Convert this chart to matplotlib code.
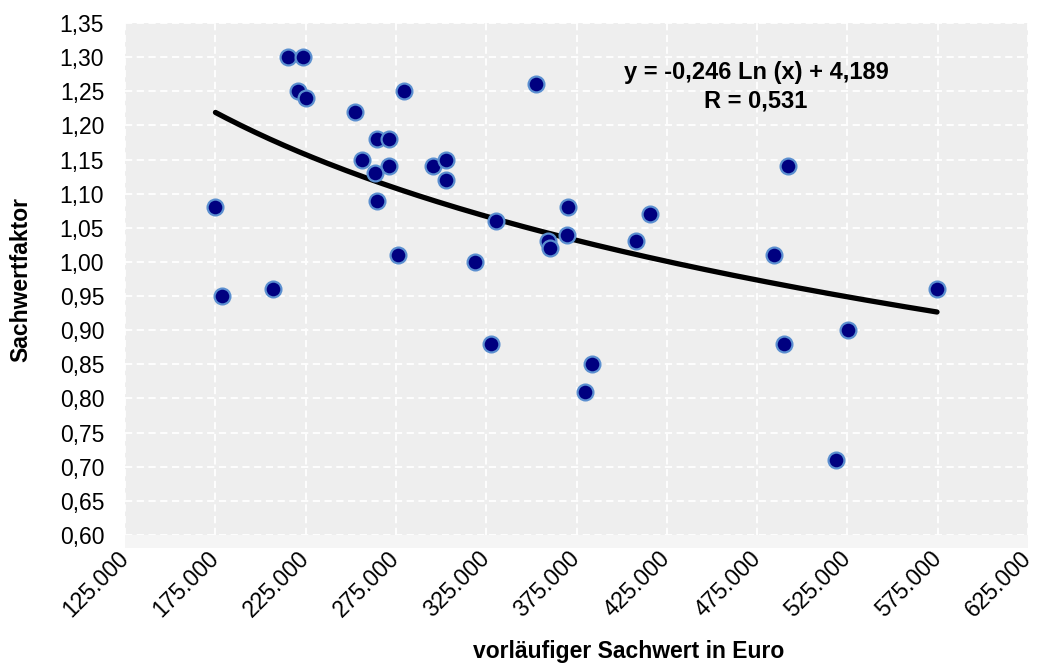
import numpy as np
import matplotlib.pyplot as plt
from matplotlib.patches import Rectangle
from matplotlib.ticker import FuncFormatter, MultipleLocator

plt.rcParams['font.family'] = ['Liberation Sans', 'DejaVu Sans']

# vorlaeufiger Sachwert (Euro) und Sachwertfaktor
sachwert = [175100, 178700, 207200, 215500, 223600, 220700, 225500, 252400,
            279300, 264800, 271200, 256200, 271100, 263500, 295300, 302600,
            302600, 264600, 276000, 318600, 330500, 352600, 370200, 370000,
            359000, 360600, 415900, 407800, 327800, 383800, 379700, 491900,
            484200, 574600, 525500, 489700, 518700]
faktor = [1.08, 0.95, 0.96, 1.30, 1.30, 1.25, 1.24, 1.22,
          1.25, 1.18, 1.18, 1.15, 1.14, 1.13, 1.14, 1.15,
          1.12, 1.09, 1.01, 1.00, 1.06, 1.26, 1.08, 1.04,
          1.03, 1.02, 1.07, 1.03, 0.88, 0.85, 0.81, 1.14,
          1.01, 0.96, 0.90, 0.88, 0.71]
x_ticks = [125000, 175000, 225000, 275000, 325000, 375000,
           425000, 475000, 525000, 575000, 625000]

# logarithmische Trendlinie laut Beschriftung
trend_a = -0.246
trend_b = 4.189
trend_r = 0.531

fig = plt.figure(figsize=(10.38, 6.63), dpi=100)
ax = fig.add_axes([0.1204, 0.193, 0.8700, 0.7723])
ax.set_facecolor('#eeeeee')
# schmaler heller Rand unter der Zeichenflaeche
ax.add_patch(Rectangle((0, -0.025), 1, 0.025, transform=ax.transAxes,
                       facecolor='#f5f5f5', edgecolor='none', clip_on=False,
                       zorder=0))

xs = np.linspace(min(sachwert), max(sachwert), 200)
ax.plot(xs, trend_a * np.log(xs) + trend_b, color='black', lw=3.8,
        solid_capstyle='round', zorder=3)
ax.scatter(sachwert, faktor, s=130, color='#000080', edgecolors='#5b8fd0',
           linewidths=1.6, zorder=4)

ax.set_xlim(125000, 625000)
ax.set_ylim(0.6, 1.35)
ax.set_xticks(x_ticks)
ax.yaxis.set_major_locator(MultipleLocator(0.05))
ax.xaxis.set_major_formatter(FuncFormatter(lambda v, p: f"{v:,.0f}".replace(',', '.')))
ax.yaxis.set_major_formatter(FuncFormatter(lambda v, p: f"{v:.2f}".replace('.', ',')))

ax.grid(True, color='white', linestyle=(0, (4, 2.5)), linewidth=1.3)
ax.set_axisbelow(True)
for s in ax.spines.values():
    s.set_visible(False)
ax.tick_params(length=0, labelsize=16.5, colors='black')
ax.tick_params(axis='y', pad=15)
ax.tick_params(axis='x', pad=14)
plt.setp(ax.get_xticklabels(), rotation=45, ha='right', va='center',
         rotation_mode='anchor')

ax.set_xlabel('vorläufiger Sachwert in Euro', fontsize=16.5, fontweight='bold')
ax.xaxis.set_label_coords(0.558, -0.205)
ax.set_ylabel('Sachwertfaktor', fontsize=16.5, fontweight='bold')
ax.yaxis.set_label_coords(-0.103, 0.5)

ax.text(0.7283, 1 - 73 / 663, f"y = {trend_a:.3f} Ln (x) + {trend_b:.3f}".replace('.', ','),
        transform=fig.transFigure, ha='center', va='center', fontsize=17,
        fontweight='bold')
ax.text(0.7283, 1 - 101 / 663, f"R = {trend_r:.3f}".replace('.', ','),
        transform=fig.transFigure, ha='center', va='center', fontsize=17,
        fontweight='bold')

fig.savefig('out.png', dpi=100)
